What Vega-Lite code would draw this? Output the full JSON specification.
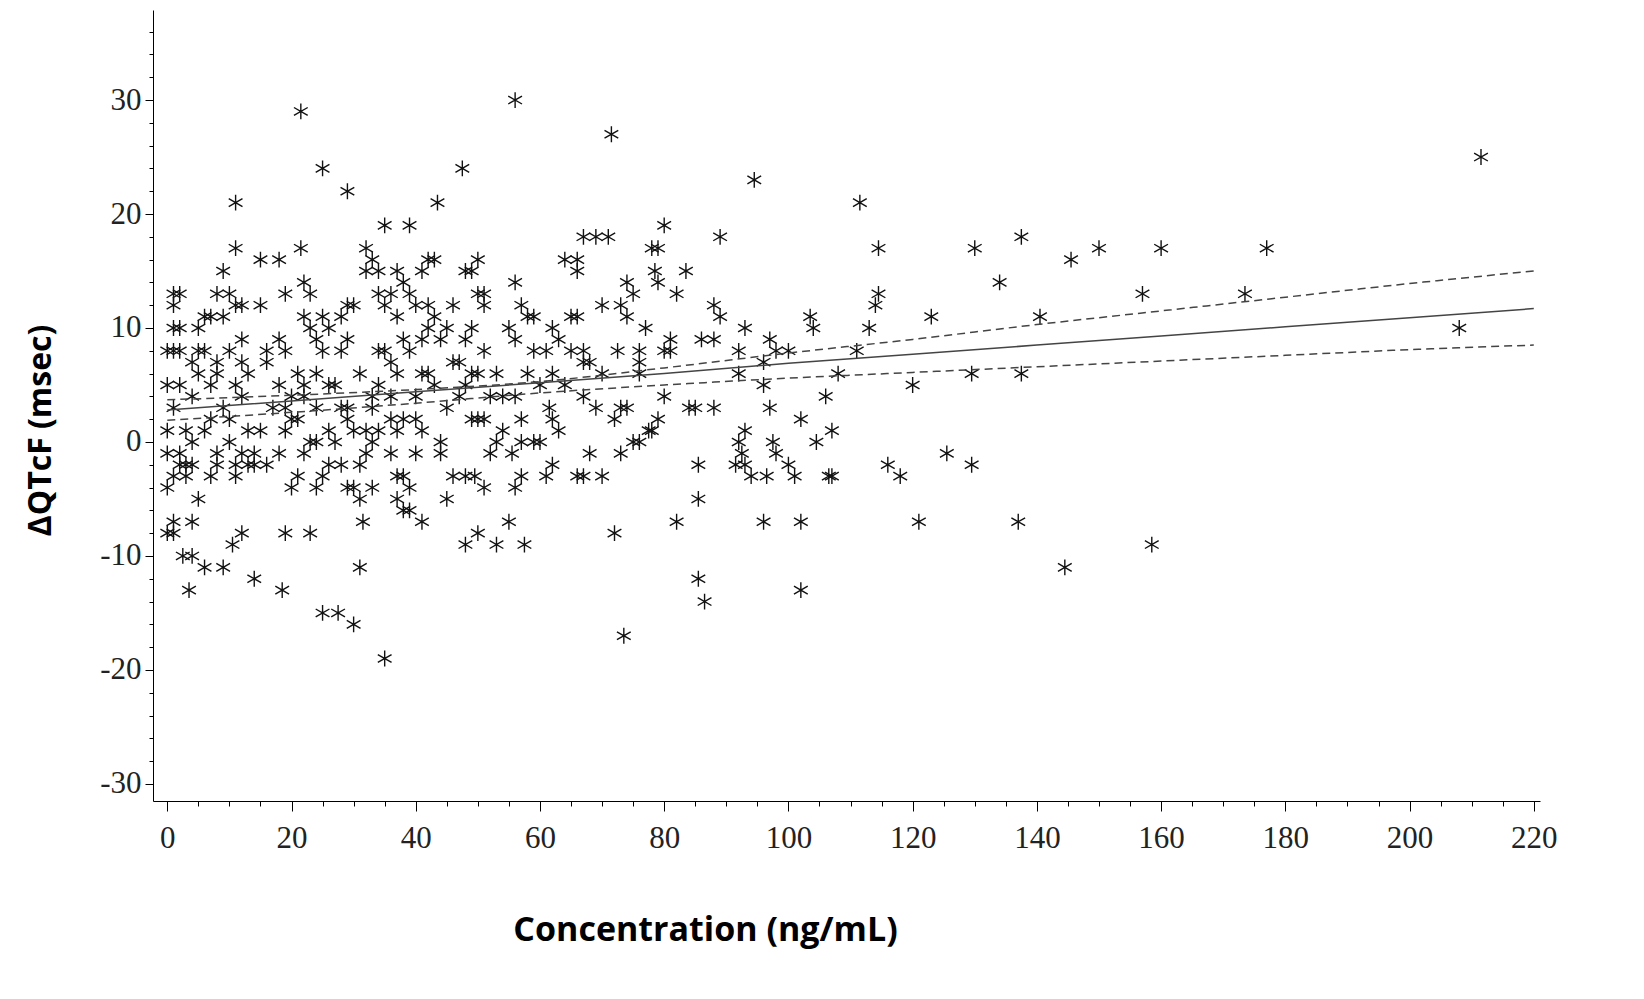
{
  "$schema": "https://vega.github.io/schema/vega-lite/v6.json",
  "width": 1387,
  "height": 791,
  "autosize": {"type": "none"},
  "padding": {"left": 153, "top": 10, "right": 104, "bottom": 198},
  "background": "white",
  "config": {"view": {"stroke": null}},
  "datasets": {
    "obs": [
      {"c":21.5,"q":29},{"c":56,"q":30},{"c":71.5,"q":27},{"c":211.5,"q":25},{"c":25,"q":24},{"c":47.5,"q":24},{"c":94.5,"q":23},{"c":29,"q":22},{"c":11,"q":21},{"c":43.5,"q":21},{"c":111.5,"q":21},{"c":21.5,"q":17},{"c":32,"q":17},{"c":35,"q":19},{"c":39,"q":19},{"c":80,"q":19},{"c":89,"q":18},{"c":137.5,"q":18},{"c":130,"q":17},{"c":150,"q":17},{"c":160,"q":17},{"c":177,"q":17},{"c":114.5,"q":17},{"c":173.5,"q":13},{"c":157,"q":13},{"c":134,"q":14},{"c":145.5,"q":16},{"c":140.5,"q":11},{"c":208,"q":10},{"c":123,"q":11},{"c":120,"q":5},{"c":129.5,"q":6},{"c":137.5,"q":6},{"c":125.5,"q":-1},{"c":129.5,"q":-2},{"c":116,"q":-2},{"c":118,"q":-3},{"c":121,"q":-7},{"c":137,"q":-7},{"c":144.5,"q":-11},{"c":158.5,"q":-9},{"c":102,"q":-13},{"c":102,"q":-7},{"c":96,"q":-7},{"c":86.5,"q":-14},{"c":85.5,"q":-12},{"c":85.5,"q":-5},{"c":85.5,"q":-2},{"c":73.5,"q":-17},{"c":72,"q":-8},{"c":82,"q":-7},{"c":35,"q":-19},{"c":30,"q":-16},{"c":25,"q":-15},{"c":27.5,"q":-15},{"c":18.5,"q":-13},{"c":3.5,"q":-13},{"c":31,"q":-11},{"c":14,"q":-12},{"c":9,"q":-11},{"c":6,"q":-11},{"c":1,"q":-8},{"c":2.5,"q":-10},{"c":4,"q":-10},{"c":10.5,"q":-9},{"c":12,"q":-8},{"c":50,"q":-8},{"c":48,"q":-9},{"c":53,"q":-9},{"c":57.5,"q":-9},{"c":55,"q":-7},{"c":31.5,"q":-7},{"c":41,"q":-7},{"c":23,"q":-8},{"c":19,"q":-8},
      {"c":100,"q":8},{"c":97,"q":9},{"c":98,"q":8},{"c":103.5,"q":11},{"c":104,"q":10},{"c":111,"q":8},{"c":113,"q":10},{"c":114,"q":12},{"c":114.5,"q":13},{"c":108,"q":6},{"c":106,"q":4},{"c":107,"q":1},{"c":104.5,"q":0},{"c":102,"q":2},{"c":100,"q":-2},{"c":101,"q":-3},{"c":106.5,"q":-3},{"c":107,"q":-3},{"c":97,"q":3},{"c":96,"q":5},{"c":96,"q":7},{"c":97.5,"q":0},{"c":98,"q":-1},{"c":96.5,"q":-3},{"c":94,"q":-3},{"c":93,"q":10},{"c":92,"q":8},{"c":92,"q":6},{"c":92,"q":0},{"c":93,"q":1},{"c":92.5,"q":-1},{"c":91.5,"q":-2},{"c":93,"q":-2},{"c":88,"q":12},{"c":89,"q":11},{"c":88,"q":9},{"c":88,"q":3},{"c":84,"q":3},{"c":85,"q":3},{"c":86,"q":9},{"c":83.5,"q":15},{"c":82,"q":13},{"c":81,"q":9},{"c":80,"q":8},{"c":79,"q":14},{"c":78,"q":17},{"c":79,"q":17},{"c":78.5,"q":15},{"c":77,"q":10},{"c":76,"q":7},{"c":76,"q":6},{"c":76,"q":8},{"c":77.5,"q":1},{"c":80,"q":4},{"c":75,"q":0},{"c":76,"q":0},{"c":74,"q":3},{"c":73,"q":3},{"c":72.5,"q":8},{"c":73,"q":12},{"c":74,"q":11},{"c":74,"q":14},{"c":75,"q":13},{"c":70,"q":12},{"c":71,"q":18},{"c":67,"q":18},{"c":69,"q":18},{"c":66,"q":15},{"c":66,"q":16},{"c":64,"q":16},{"c":67,"q":8},{"c":66,"q":11},{"c":65,"q":11},{"c":67,"q":7},{"c":68,"q":7},{"c":67,"q":4},{"c":68,"q":-1},{"c":69,"q":3},{"c":70,"q":-3},{"c":66,"q":-3},{"c":67,"q":-3},{"c":63,"q":1},{"c":62,"q":2},{"c":61.5,"q":3},{"c":62,"q":-2},{"c":61,"q":-3},{"c":60,"q":0},{"c":59,"q":0},{"c":60,"q":5},{"c":59,"q":8},{"c":61,"q":8},{"c":62,"q":10},{"c":63,"q":9},{"c":62,"q":6},{"c":58,"q":11},{"c":57,"q":12},{"c":59,"q":11},{"c":56,"q":14},{"c":56,"q":9},{"c":55,"q":10},{"c":56,"q":4},{"c":57,"q":2},{"c":57,"q":0},{"c":56,"q":-4},{"c":57,"q":-3},{"c":55.5,"q":-1},{"c":54,"q":4},{"c":53,"q":6},{"c":52,"q":4},{"c":52,"q":-1},{"c":51,"q":-4},{"c":51,"q":8},{"c":51,"q":12},{"c":50,"q":13},{"c":50,"q":16},{"c":51,"q":13},{"c":49,"q":15},{"c":49,"q":10},{"c":48,"q":15},{"c":48,"q":9},{"c":47,"q":7},{"c":46,"q":7},{"c":47,"q":4},{"c":48,"q":5},{"c":49,"q":6},{"c":50,"q":6},{"c":49,"q":2},{"c":50,"q":2},{"c":51,"q":2},{"c":49.5,"q":-3},{"c":48,"q":-3},{"c":46,"q":-3},{"c":45,"q":-5},{"c":44,"q":-1},{"c":44,"q":0},{"c":45,"q":3},{"c":43,"q":5},{"c":44,"q":9},{"c":43,"q":11},{"c":42,"q":12},{"c":42,"q":10},{"c":42,"q":16},{"c":41,"q":15},{"c":41,"q":9},{"c":42,"q":6},{"c":41,"q":6},{"c":40,"q":4},{"c":40,"q":2},{"c":41,"q":1},{"c":40,"q":-1},{"c":39,"q":-4},{"c":38,"q":-6},{"c":37,"q":-5},{"c":39,"q":-6},{"c":37,"q":-3},{"c":38,"q":-3},{"c":36,"q":-1},{"c":36,"q":2},{"c":37,"q":1},{"c":36,"q":4},{"c":37,"q":6},{"c":38,"q":9},{"c":37,"q":11},{"c":36,"q":13},{"c":37,"q":15},{"c":38,"q":14},{"c":39,"q":13},{"c":35,"q":12},{"c":34,"q":13},{"c":34,"q":15},{"c":33,"q":16},{"c":32,"q":15},{"c":34,"q":8},{"c":35,"q":8},{"c":36,"q":7},{"c":34,"q":5},{"c":33,"q":4},{"c":33,"q":3},{"c":32,"q":1},{"c":33,"q":0},{"c":34,"q":1},{"c":32,"q":-1},{"c":31,"q":-2},{"c":33,"q":-4},{"c":31,"q":-5},{"c":30,"q":-4},{"c":29,"q":-4},{"c":28,"q":-2},{"c":29,"q":2},{"c":28,"q":3},{"c":29,"q":3},{"c":27,"q":0},{"c":26,"q":1},{"c":27,"q":5},{"c":28,"q":8},{"c":29,"q":12},{"c":30,"q":12},{"c":28,"q":11},{"c":29,"q":9},{"c":26,"q":10},{"c":25,"q":11},{"c":25,"q":8},{"c":24,"q":6},{"c":24,"q":9},{"c":23,"q":13},{"c":22,"q":14},{"c":22,"q":11},{"c":23,"q":10},{"c":24,"q":3},{"c":22,"q":4},{"c":23,"q":0},{"c":24,"q":0},{"c":22,"q":5},{"c":21,"q":6},{"c":20,"q":4},{"c":20,"q":2},{"c":19,"q":1},{"c":20,"q":-4},{"c":21,"q":-3},{"c":22,"q":-1},{"c":24,"q":-4},{"c":26,"q":-2},{"c":25,"q":-3},{"c":18,"q":-1},{"c":19,"q":3},{"c":18,"q":5},{"c":19,"q":8},{"c":18,"q":9},{"c":19,"q":13},{"c":18,"q":16},{"c":15,"q":16},{"c":15,"q":12},{"c":16,"q":8},{"c":16,"q":7},{"c":17,"q":3},{"c":15,"q":1},{"c":14,"q":-1},{"c":14,"q":-2},{"c":16,"q":-2},{"c":13,"q":1},{"c":12,"q":4},{"c":13,"q":6},{"c":12,"q":9},{"c":11,"q":12},{"c":11,"q":17},{"c":12,"q":12},{"c":10,"q":13},{"c":9,"q":15},{"c":8,"q":13},{"c":9,"q":11},{"c":8,"q":7},{"c":8,"q":6},{"c":7,"q":5},{"c":7,"q":2},{"c":8,"q":-1},{"c":8,"q":-2},{"c":7,"q":-3},{"c":6,"q":1},{"c":5,"q":6},{"c":5,"q":8},{"c":6,"q":8},{"c":7,"q":11},{"c":6,"q":11},{"c":5,"q":10},{"c":4,"q":7},{"c":4,"q":4},{"c":4,"q":0},{"c":4,"q":-2},{"c":5,"q":-5},{"c":4,"q":-7},{"c":3,"q":-3},{"c":3,"q":1},{"c":2,"q":5},{"c":2,"q":8},{"c":1,"q":10},{"c":2,"q":10},{"c":1,"q":12},{"c":1,"q":13},{"c":2,"q":13},{"c":0,"q":8},{"c":1,"q":8},{"c":0,"q":5},{"c":0,"q":1},{"c":0,"q":-1},{"c":0,"q":-4},{"c":1,"q":-3},{"c":2,"q":-1},{"c":2,"q":-2},{"c":3,"q":-2},{"c":1,"q":3},{"c":1,"q":-7},{"c":0,"q":-8},{"c":10,"q":0},{"c":11,"q":-2},{"c":11,"q":-3},{"c":12,"q":-1},{"c":13,"q":-2},{"c":10,"q":2},{"c":11,"q":5},{"c":9,"q":3},{"c":10,"q":8},{"c":12,"q":7},{"c":21,"q":2},{"c":26,"q":5},{"c":30,"q":1},{"c":31,"q":6},{"c":38,"q":2},{"c":39,"q":8},{"c":40,"q":12},{"c":43,"q":16},{"c":45,"q":10},{"c":46,"q":12},{"c":53,"q":0},{"c":54,"q":1},{"c":58,"q":6},{"c":64,"q":5},{"c":65,"q":8},{"c":70,"q":6},{"c":72,"q":2},{"c":73,"q":-1},{"c":78,"q":1},{"c":79,"q":2},{"c":81,"q":8}
    ],
    "fit": [
      {"c":0,"fit":2.8,"lo":1.9,"hi":3.7},
      {"c":20,"fit":3.6,"lo":2.6,"hi":4.1},
      {"c":40,"fit":4.4,"lo":3.4,"hi":4.6},
      {"c":60,"fit":5.2,"lo":4.3,"hi":5.3},
      {"c":80,"fit":6.0,"lo":5.0,"hi":6.5},
      {"c":100,"fit":6.9,"lo":5.6,"hi":7.8},
      {"c":120,"fit":7.7,"lo":6.1,"hi":9.0},
      {"c":140,"fit":8.5,"lo":6.6,"hi":10.3},
      {"c":160,"fit":9.3,"lo":7.1,"hi":11.5},
      {"c":180,"fit":10.1,"lo":7.6,"hi":12.7},
      {"c":200,"fit":10.9,"lo":8.1,"hi":13.9},
      {"c":220,"fit":11.7,"lo":8.5,"hi":15.0}
    ]
  },
  "layer": [
    {
      "data": {"name": "fit"},
      "mark": {"type": "point", "opacity": 0},
      "encoding": {
        "x": {"field": "c", "type": "quantitative", "scale": {"domain": [-2.3, 221], "nice": false, "zero": false},
          "axis": {"values": [0,5,10,15,25,30,35,45,50,55,65,70,75,85,90,95,105,110,115,125,130,135,145,150,155,165,170,175,185,190,195,205,210,215], "labels": false, "domain": false, "grid": false, "tickSize": 5, "tickColor": "black", "title": null, "orient": "bottom"}},
        "y": {"field": "fit", "type": "quantitative", "scale": {"domain": [-31.5, 37.9], "nice": false, "zero": false},
          "axis": {"values": [-28,-26,-24,-22,-18,-16,-14,-12,-8,-6,-4,-2,2,4,6,8,12,14,16,18,22,24,26,28,32,34,36], "labels": false, "domain": false, "grid": false, "tickSize": 4, "tickColor": "black", "title": null, "orient": "left"}}
      }
    },
    {
      "data": {"name": "obs"},
      "mark": {"type": "point", "shape": "M0,-1L0,1M-0.87,-0.5L0.87,0.5M-0.87,0.5L0.87,-0.5", "size": 250, "stroke": "#111111", "strokeWidth": 1.4, "opacity": 1, "filled": false},
      "encoding": {
        "x": {"field": "c", "type": "quantitative",
          "axis": {"values": [0,20,40,60,80,100,120,140,160,180,200,220], "labelExpr": "toString(datum.value)", "grid": false, "domainColor": "black", "tickColor": "black", "tickSize": 10, "labelFont": "Liberation Serif", "labelFontSize": 31, "labelColor": "#222222", "labelPadding": 12,
            "title": "Concentration (ng/mL)", "titleFont": "Open Sans", "titleFontSize": 34, "titleFontWeight": "bold", "titleColor": "black", "titleX": 552, "titleY": 129, "titleBaseline": "middle", "orient": "bottom"}},
        "y": {"field": "q", "type": "quantitative",
          "axis": {"values": [-30,-20,-10,0,10,20,30], "labelExpr": "toString(datum.value)", "grid": false, "domainColor": "black", "tickColor": "black", "tickSize": 8, "labelFont": "Liberation Serif", "labelFontSize": 31, "labelColor": "#222222", "labelPadding": 4,
            "title": "ΔQTcF (msec)", "titleFont": "Open Sans", "titleFontSize": 32, "titleFontWeight": "bold", "titleColor": "black", "titleX": -113, "titleY": 420, "titleAngle": -90, "titleBaseline": "middle", "orient": "left"}}
      }
    },
    {
      "data": {"name": "fit"},
      "mark": {"type": "line", "color": "#444444", "strokeWidth": 1.5},
      "encoding": {"x": {"field": "c", "type": "quantitative", "axis": null}, "y": {"field": "fit", "type": "quantitative", "axis": null}}
    },
    {
      "data": {"name": "fit"},
      "mark": {"type": "line", "color": "#444444", "strokeWidth": 1.5, "strokeDash": [8, 5], "interpolate": "monotone"},
      "encoding": {"x": {"field": "c", "type": "quantitative", "axis": null}, "y": {"field": "lo", "type": "quantitative", "axis": null}}
    },
    {
      "data": {"name": "fit"},
      "mark": {"type": "line", "color": "#444444", "strokeWidth": 1.5, "strokeDash": [8, 5], "interpolate": "monotone"},
      "encoding": {"x": {"field": "c", "type": "quantitative", "axis": null}, "y": {"field": "hi", "type": "quantitative", "axis": null}}
    }
  ],
  "resolve": {"axis": {"x": "independent", "y": "independent"}}
}
